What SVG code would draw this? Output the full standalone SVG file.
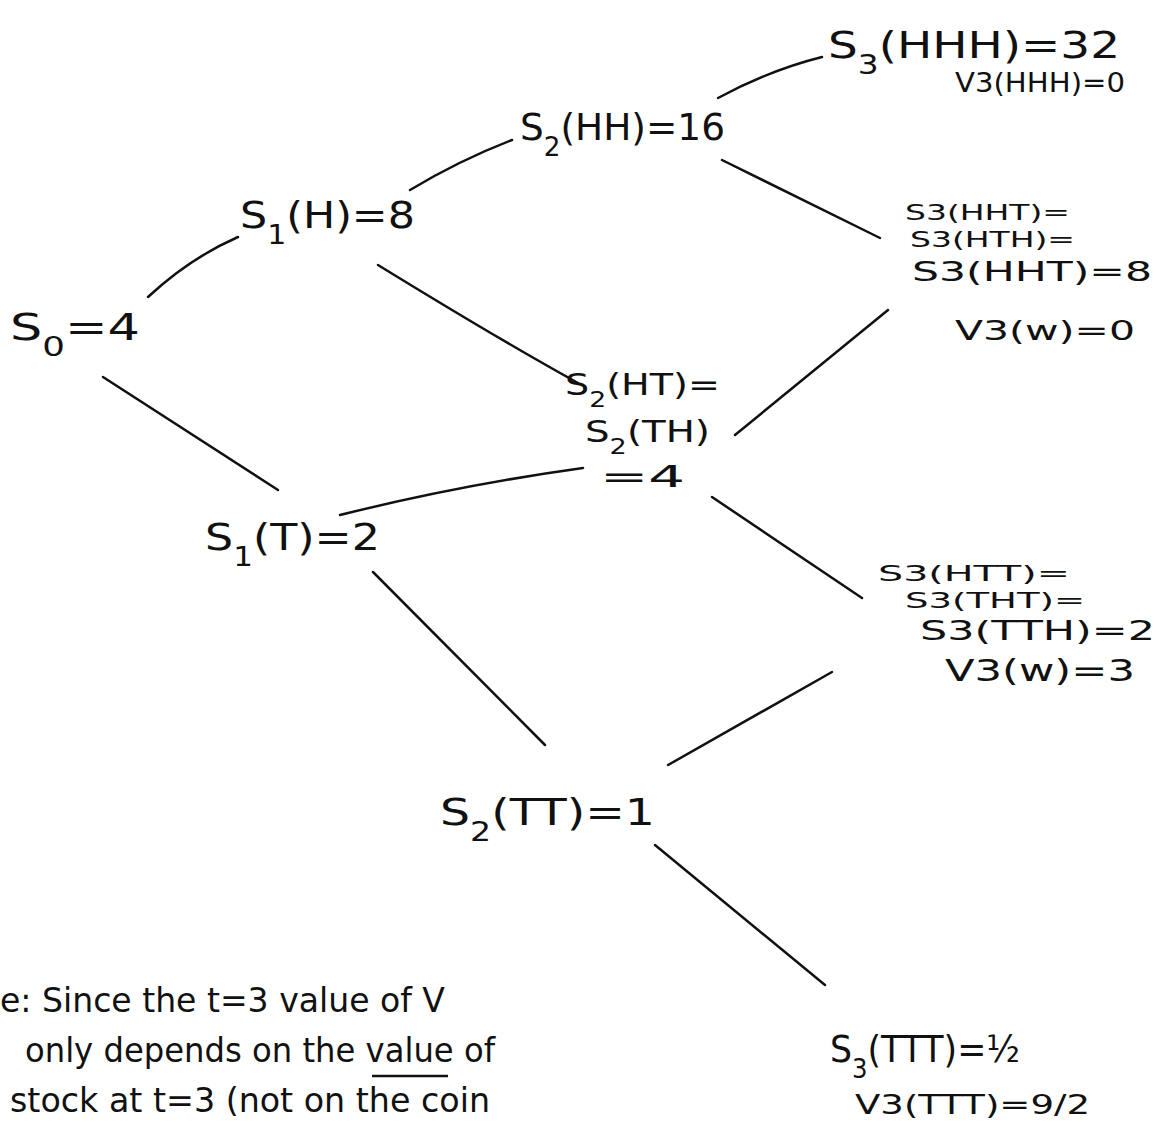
<svg xmlns="http://www.w3.org/2000/svg" width="1159" height="1134" viewBox="0 0 1159 1134">
<style>
text{font-family:"DejaVu Sans","Liberation Sans",sans-serif;fill:#111;}
.big{font-size:38px;}
.mid{font-size:30px;}
.sm{font-size:26px;}
.xs{font-size:22px;}
.note{font-size:34px;}
.sub{font-size:70%;}
.edge{stroke:#111;stroke-width:2.5;fill:none;stroke-linecap:round;}
</style>
<rect width="1159" height="1134" fill="#fff"/>
<g id="connectors">
<path class="edge" d="M148,297 Q190,258 238,237"/>
<path class="edge" d="M410,190 Q460,160 512,140"/>
<path class="edge" d="M718,98 Q770,70 822,57"/>
<path class="edge" d="M722,160 L880,238"/>
<path class="edge" d="M378,265 Q500,340 578,383"/>
<path class="edge" d="M735,435 L888,310"/>
<path class="edge" d="M103,377 L278,490"/>
<path class="edge" d="M340,515 Q460,485 583,468"/>
<path class="edge" d="M712,497 L862,598"/>
<path class="edge" d="M373,572 L545,745"/>
<path class="edge" d="M668,765 L832,672"/>
<path class="edge" d="M655,845 L825,985"/>
</g>
<g id="S0"><text class="big" x="10" y="340" textLength="130" lengthAdjust="spacingAndGlyphs">S<tspan class="sub" baseline-shift="sub">0</tspan>=4</text></g>
<g id="S1H"><text class="big" x="240" y="228" textLength="175" lengthAdjust="spacingAndGlyphs">S<tspan class="sub" baseline-shift="sub">1</tspan>(H)=8</text></g>
<g id="S1T"><text class="big" x="205" y="550" textLength="175" lengthAdjust="spacingAndGlyphs">S<tspan class="sub" baseline-shift="sub">1</tspan>(T)=2</text></g>
<g id="S2HH"><text class="big" x="520" y="140" textLength="205" lengthAdjust="spacingAndGlyphs">S<tspan class="sub" baseline-shift="sub">2</tspan>(HH)=16</text></g>
<g id="S2HT">
<text class="mid" x="565" y="395" textLength="155" lengthAdjust="spacingAndGlyphs">S<tspan class="sub" baseline-shift="sub">2</tspan>(HT)=</text>
<text class="mid" x="585" y="442" textLength="125" lengthAdjust="spacingAndGlyphs">S<tspan class="sub" baseline-shift="sub">2</tspan>(TH)</text>
<text class="mid" x="600" y="487" textLength="85" lengthAdjust="spacingAndGlyphs">=4</text>
</g>
<g id="S2TT"><text class="big" x="440" y="825" textLength="215" lengthAdjust="spacingAndGlyphs">S<tspan class="sub" baseline-shift="sub">2</tspan>(TT)=1</text></g>
<g id="S3HHH">
<text class="big" x="828" y="58" textLength="292" lengthAdjust="spacingAndGlyphs">S<tspan class="sub" baseline-shift="sub">3</tspan>(HHH)=32</text>
<text class="sm" x="955" y="92" textLength="170" lengthAdjust="spacingAndGlyphs">V3(HHH)=0</text>
</g>
<g id="S3HHT">
<text class="xs" x="905" y="220" textLength="165" lengthAdjust="spacingAndGlyphs">S3(HHT)=</text>
<text class="xs" x="910" y="247" textLength="165" lengthAdjust="spacingAndGlyphs">S3(HTH)=</text>
<text class="sm" x="912" y="281" textLength="240" lengthAdjust="spacingAndGlyphs">S3(HHT)=8</text>
<text class="sm" x="955" y="340" textLength="180" lengthAdjust="spacingAndGlyphs">V3(w)=0</text>
</g>
<g id="S3HTT">
<text class="xs" x="878" y="581" textLength="192" lengthAdjust="spacingAndGlyphs">S3(HTT)=</text>
<text class="xs" x="905" y="608" textLength="180" lengthAdjust="spacingAndGlyphs">S3(THT)=</text>
<text class="sm" x="920" y="640" textLength="235" lengthAdjust="spacingAndGlyphs">S3(TTH)=2</text>
<text class="mid" x="945" y="681" textLength="190" lengthAdjust="spacingAndGlyphs">V3(w)=3</text>
</g>
<g id="S3TTT">
<text class="big" x="830" y="1062" textLength="190" lengthAdjust="spacingAndGlyphs">S<tspan class="sub" baseline-shift="sub">3</tspan>(TTT)=½</text>
<text class="sm" x="855" y="1114" textLength="235" lengthAdjust="spacingAndGlyphs">V3(TTT)=9/2</text>
</g>
<g id="note">
<text class="note" x="0" y="1012" textLength="445" lengthAdjust="spacingAndGlyphs">e: Since the t=3 value of V</text>
<text class="note" x="25" y="1062" textLength="470" lengthAdjust="spacingAndGlyphs">only depends on the value of</text>
<line x1="372" y1="1076" x2="448" y2="1076" stroke="#111" stroke-width="2.5"/>
<text class="note" x="10" y="1112" textLength="480" lengthAdjust="spacingAndGlyphs">stock at t=3 (not on the coin</text>
</g>
</svg>
